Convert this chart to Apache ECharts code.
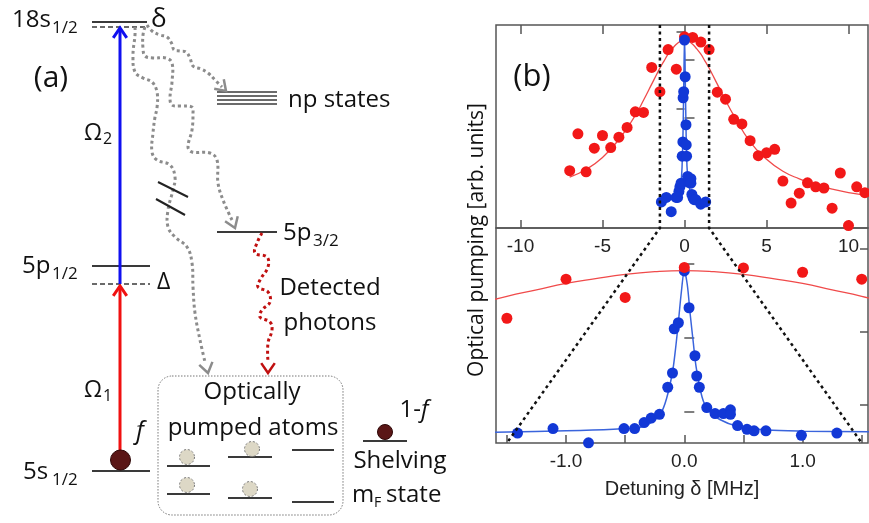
<!DOCTYPE html>
<html>
<head>
<meta charset="utf-8">
<script src="https://cdn.jsdelivr.net/npm/echarts@6/dist/echarts.min.js"></script>
<style>
html,body{margin:0;padding:0;background:#fff;}
#main{width:869px;height:523px;}
</style>
</head>
<body>
<div id="main"></div>
<script>
// red data: broad resonance (detuning in MHz, arb. units)
var redX = [-7,-6.5,-6,-5.5,-5,-4.5,-4,-3.5,-3,-2.5,-2,-1.5,-1,-0.5,0,0.5,1,1.5,2,2.5,3,3.5,4,4.5,5,5.5,6,6.5,7,7.5,8,8.5,9,9.5,10,10.5,11];
var redY = [1.08,1.72,1.06,1.47,1.69,1.48,1.66,1.83,2.10,2.09,2.87,2.45,3.18,2.84,3.40,3.39,3.31,3.18,2.44,2.32,1.97,1.89,1.60,1.34,1.39,1.45,0.90,0.52,0.69,0.87,0.80,0.78,0.43,1.04,0.13,0.80,0.70];
var redFitX = [-7,-6,-5,-4,-3,-2.5,-2,-1.75,-1.5,-1.25,-1,-0.75,-0.5,-0.25,0,0.25,0.5,0.75,1,1.25,1.5,1.75,2,2.5,3,4,5,6,7,8,9,10,11,11.5];
var redFitY = [0.97,1.10,1.31,1.62,2.04,2.30,2.58,2.72,2.86,2.98,3.10,3.19,3.27,3.32,3.34,3.32,3.27,3.19,3.10,2.98,2.86,2.72,2.58,2.30,2.04,1.58,1.28,1.07,0.94,0.84,0.76,0.70,0.66,0.64];

// blue data: narrow resonance
var blueX = [-1.41,-1.11,-0.81,-0.51,-0.42,-0.34,-0.28,-0.21,-0.14,-0.10,-0.085,-0.05,0.0,0.04,0.09,0.105,0.127,0.19,0.26,0.33,0.39,0.39,0.45,0.53,0.59,0.69,0.99,1.29];
var blueY = [0.64,0.70,0.51,0.70,0.70,0.78,0.84,0.89,1.25,1.44,2.03,2.11,2.80,2.31,1.67,1.40,1.25,0.98,0.90,0.90,0.95,0.89,0.74,0.69,0.67,0.67,0.61,0.64];
var blueFitX = [-1.6,-1.0,-0.6,-0.4,-0.3,-0.2,-0.15,-0.1,-0.075,-0.05,-0.025,0,0.025,0.05,0.075,0.1,0.15,0.2,0.3,0.45,0.7,1.0,1.6];
var blueFitY = [0.65,0.67,0.69,0.71,0.76,0.90,1.10,1.45,1.75,2.12,2.52,2.80,2.62,2.22,1.86,1.52,1.12,0.95,0.82,0.73,0.68,0.665,0.655];

// axis ticks
var wideTicks = [-10,-5,0,5,10];
var zoomTicks = [-1.5,-1,-0.5,0,0.5,1,1.5];
var zoomLabels = [-1,0,1];
var zoomEdge = 1.5;

function pairs(xs, ys, keep) {
	var out = [];
	for (var i = 0; i < xs.length; i++) {
		if (!keep || keep(xs[i])) out.push([xs[i], ys[i]]);
	}
	return out;
}

var RED = '#f21818', BLUE = '#1238d6';
var FRAME = '#555';
var CAL = '"Open Sans", Lato, sans-serif';
var ARIAL = '"Liberation Sans", Arial, sans-serif';
var LVL = '#3a3a3a';

function tickAxis(extra) {
	var a = {
		axisLine: {show: false},
		splitLine: {show: false},
		axisTick: {show: true, inside: true, length: 9, lineStyle: {color: FRAME, width: 1.5}},
		axisLabel: {show: false}
	};
	for (var k in extra) a[k] = extra[k];
	return a;
}

var myChart = echarts.init(document.getElementById('main'));

var option = {
	animation: false,
	backgroundColor: '#fff',
	grid: [
		{left: 496, top: 25, width: 372, height: 203, show: true, borderColor: FRAME, borderWidth: 1.5},
		{left: 496, top: 228, width: 372, height: 215, show: true, borderColor: FRAME, borderWidth: 1.5}
	],
	xAxis: [
		tickAxis({type: 'value', gridIndex: 0, position: 'bottom', min: -11.494, max: 11.189,
			axisTick: {show: true, inside: true, length: 8, customValues: wideTicks, lineStyle: {color: FRAME, width: 1.5}},
			axisLabel: {show: true, customValues: wideTicks, margin: 9, color: '#222', fontSize: 19, fontFamily: ARIAL}}),
		tickAxis({type: 'value', gridIndex: 0, position: 'top', min: -11.494, max: 11.189,
			axisTick: {show: true, inside: true, length: 9, customValues: wideTicks, lineStyle: {color: FRAME, width: 1.5}}}),
		tickAxis({type: 'value', gridIndex: 1, position: 'bottom', min: -1.592, max: 1.553,
			axisTick: {show: true, inside: true, length: 8, customValues: zoomTicks, lineStyle: {color: FRAME, width: 1.5}},
			axisLabel: {show: true, customValues: zoomLabels, margin: 9, color: '#222', fontSize: 19, fontFamily: ARIAL,
				formatter: function (v) { return v.toFixed(1); }},
			name: 'Detuning \u03b4 [MHz]', nameLocation: 'middle', nameGap: 36,
			nameTextStyle: {color: '#222', fontSize: 20, fontFamily: ARIAL}})
	],
	yAxis: [
		tickAxis({type: 'value', gridIndex: 0, position: 'left', min: 0.087, max: 3.605,
			axisTick: {show: true, inside: true, length: 10, customValues: [1, 2, 3], lineStyle: {color: FRAME, width: 1.5}}}),
		tickAxis({type: 'value', gridIndex: 0, position: 'right', min: 0.293, max: 3.0,
			axisTick: {show: true, inside: true, length: 8, customValues: [0.911, 1.889, 2.911], lineStyle: {color: FRAME, width: 1.5}}}),
		tickAxis({type: 'value', gridIndex: 1, position: 'left', min: 0.118, max: 4.137,
			axisTick: {show: true, inside: true, length: 10, customValues: [0.703, 2.086, 3.464], lineStyle: {color: FRAME, width: 1.5}}}),
		tickAxis({type: 'value', gridIndex: 1, position: 'right', min: 0.507, max: 3.373,
			axisTick: {show: true, inside: true, length: 8, customValues: [1.013, 1.991, 3.103], lineStyle: {color: FRAME, width: 1.5}}})
	],
	series: [
		{type: 'line', xAxisIndex: 0, yAxisIndex: 0, data: pairs(redFitX, redFitY), smooth: true, showSymbol: false,
			lineStyle: {color: '#f04a4a', width: 1.3}, z: 2},
		{type: 'scatter', xAxisIndex: 0, yAxisIndex: 0, data: pairs(redX, redY), symbolSize: 11,
			itemStyle: {color: RED, opacity: 1}, z: 3},
		{type: 'line', xAxisIndex: 0, yAxisIndex: 1, data: pairs(blueFitX, blueFitY), showSymbol: false,
			lineStyle: {color: '#3a64dc', width: 1.5}, z: 4},
		{type: 'scatter', xAxisIndex: 0, yAxisIndex: 1, data: pairs(blueX, blueY), symbolSize: 11,
			itemStyle: {color: BLUE, opacity: 1}, z: 5},
		{type: 'line', xAxisIndex: 2, yAxisIndex: 3, data: pairs(blueFitX, blueFitY), smooth: 0.3, showSymbol: false,
			lineStyle: {color: '#3a64dc', width: 1.5}, z: 2},
		{type: 'scatter', xAxisIndex: 2, yAxisIndex: 3, data: pairs(blueX, blueY), symbolSize: 11,
			itemStyle: {color: BLUE, opacity: 1}, z: 3},
		{type: 'line', xAxisIndex: 2, yAxisIndex: 2, data: pairs(redFitX, redFitY), smooth: true, showSymbol: false,
			lineStyle: {color: '#f04a4a', width: 1.3}, z: 4},
		{type: 'scatter', xAxisIndex: 2, yAxisIndex: 2, data: pairs(redX, redY, function (x) { return Math.abs(x) <= 1.55; }),
			symbolSize: 11, itemStyle: {color: RED, opacity: 1}, z: 5}
	]
};
myChart.setOption(option);

// ---- panel (a) schematic + labels ----
function ln(x1, y1, x2, y2, color, w, dash) {
	return {type: 'line', shape: {x1: x1, y1: y1, x2: x2, y2: y2},
		style: {stroke: color, lineWidth: w, lineDash: dash || null}, silent: true};
}
function path(pts, color, w, dash, smooth) {
	return {type: 'polyline', shape: {points: pts, smooth: smooth || 0},
		style: {stroke: color, fill: null, lineWidth: w, lineDash: dash || null, lineCap: 'butt'}, silent: true};
}
function head(tip, ang, color, w, len) {
	var a1 = ang + Math.PI - 0.6, a2 = ang + Math.PI + 0.6;
	return path([[tip[0] + len * Math.cos(a1), tip[1] + len * Math.sin(a1)], tip,
		[tip[0] + len * Math.cos(a2), tip[1] + len * Math.sin(a2)]], color, w);
}
function txt(s, x, y, size, opts) {
	opts = opts || {};
	return {type: 'text', x: x, y: y, rotation: opts.rot || 0, silent: true,
		style: {text: s, fontSize: size, fontFamily: opts.font || CAL, fontStyle: opts.italic ? 'italic' : 'normal',
			fill: opts.color || '#111', align: opts.align || 'left', verticalAlign: 'middle', rich: opts.rich}};
}
function ball(cx, cy, r) {
	return {type: 'circle', shape: {cx: cx, cy: cy, r: r}, style: {fill: '#5a1616', stroke: '#2e0808', lineWidth: 1}, silent: true};
}
function atom(cx, cy) {
	return {type: 'circle', shape: {cx: cx, cy: cy, r: 7.5}, style: {fill: '#ddd8c6', stroke: '#777', lineWidth: 1, lineDash: [2, 2]}, silent: true};
}

var GREY = '#8c8c8c', DOT = [3, 3];
var els = [
	// levels
	ln(92, 22, 147, 22, LVL, 2), ln(92, 27, 147, 27, LVL, 1.5, [5, 3]),
	ln(92, 266, 150, 266, LVL, 2), ln(92, 284, 150, 284, LVL, 1.5, [5, 3]),
	ln(92, 471, 150, 471, LVL, 2),
	ln(217, 92, 277, 92, LVL, 1.5), ln(217, 96, 277, 96, LVL, 1.5), ln(217, 100, 277, 100, LVL, 1.5), ln(217, 104, 277, 104, LVL, 1.5),
	ln(217, 232, 277, 232, LVL, 2),
	ln(363, 441, 407, 441, LVL, 2),
	// lasers
	ln(120, 470, 120, 288, '#f01010', 3), head([120, 286], -Math.PI / 2, '#f01010', 3, 12),
	ln(120, 284, 120, 30, '#1010f0', 3), head([120, 28], -Math.PI / 2, '#1010f0', 3, 12),
	// decay paths
	path([[147,25],[152,31],[160,35],[167,37],[172,44],[174,50],[180,51],[186,52],[190,58],[193,66],[201,69],[208,73],[215,80],[222,87]], GREY, 3, DOT, 0.4),
	head([226, 91], Math.PI / 4, GREY, 2.5, 12),
	path([[145,27],[143,35],[143,48],[145,56],[153,58],[166,58],[172,63],[172,82],[170,98],[172,105],[180,106],[192,107],[193,113],[192,130],[188,147],[192,152],[210,153],[217,160],[218,183],[223,200],[232,220]], GREY, 3, DOT, 0.4),
	head([235, 228], 1.2, GREY, 2.5, 12),
	path([[135,27],[135,35],[133,55],[135,72],[143,78],[152,82],[157,92],[157,108],[155,117],[153,133],[152,152],[157,160],[170,165],[175,177],[173,190],[168,210],[168,227],[175,237],[187,247],[192,263],[193,287],[195,313],[200,340],[205,362]], GREY, 3, DOT, 0.4),
	head([208, 373], 1.35, GREY, 2.5, 12),
	path([[262,233],[257,243],[255,253],[267,257],[268,267],[260,280],[258,287],[268,292],[270,302],[262,310],[260,317],[270,322],[272,330],[268,343],[268,362]], '#c01010', 3, DOT, 0.4),
	head([268, 373], Math.PI / 2, '#c01010', 2.5, 12),
	ln(158, 182, 188, 197, '#222', 2), ln(156, 199, 185, 215, '#222', 2),
	// pumped atoms box
	{type: 'rect', shape: {x: 158, y: 376, width: 185, height: 139, r: 14}, style: {fill: null, stroke: '#777', lineWidth: 1, lineDash: [1.5, 1.5]}, silent: true},
	ln(167, 466, 210, 466, LVL, 2), ln(228, 457, 272, 457, LVL, 2), ln(292, 450, 334, 450, LVL, 2),
	ln(167, 494, 210, 494, LVL, 2), ln(228, 498, 272, 498, LVL, 2), ln(292, 502, 334, 502, LVL, 2),
	atom(187, 457), atom(252, 449), atom(187, 485), atom(250, 489),
	ball(120.5, 460, 10), ball(385, 432, 7.5),
	// labels
	txt('18s', 12, 20, 24), txt('1/2', 52, 28, 17),
	txt('\u03b4', 151, 20, 26),
	txt('(a)', 51, 78, 30, {align: 'center'}),
	txt('\u03a9', 84, 133, 23), txt('2', 103, 139, 16),
	txt('5p', 22, 266, 24), txt('1/2', 52, 274, 17),
	txt('\u0394', 157, 282, 23),
	txt('\u03a9', 84, 390, 23), txt('1', 103, 396, 16),
	txt('f', 140, 432, 25, {italic: true, align: 'center'}),
	txt('5s', 23, 472, 24), txt('1/2', 52, 480, 17),
	txt('np states', 288, 100, 24),
	txt('5p', 283, 233, 24), txt('3/2', 313, 241, 17),
	txt('Detected', 330, 288, 24, {align: 'center'}),
	txt('photons', 330, 323, 24, {align: 'center'}),
	txt('Optically', 252, 392, 24, {align: 'center'}),
	txt('pumped atoms', 253, 428, 24, {align: 'center'}),
	txt('1-{i|f}', 414, 410, 24, {align: 'center', rich: {i: {fontStyle: 'italic', fontSize: 24, fontFamily: CAL}}}),
	txt('Shelving', 400, 461, 24, {align: 'center'}),
	txt('m', 352, 495, 24), txt('F', 374, 503, 14), txt('state', 386, 495, 24),
	// panel (b) labels
	txt('(b)', 532, 77, 31, {align: 'center'}),
	txt('Optical pumping [arb. units]', 477, 240, 21, {align: 'center', rot: Math.PI / 2})
];

// dashed zoom connectors through the axes' own scales
var yTopMax = option.yAxis[0].max, yTopMin = option.yAxis[0].min, yBotMin = option.yAxis[2].min;
[-zoomEdge, zoomEdge].forEach(function (xv) {
	var p1 = myChart.convertToPixel({xAxisIndex: 0, yAxisIndex: 0}, [xv, yTopMax]);
	var p2 = myChart.convertToPixel({xAxisIndex: 0, yAxisIndex: 0}, [xv, yTopMin]);
	var p3 = myChart.convertToPixel({xAxisIndex: 2, yAxisIndex: 2}, [xv, yBotMin]);
	var c = path([p1, p2, p3], '#111', 2.5, [3, 3.5]);
	c.z = 20;
	els.push(c);
});

myChart.setOption({graphic: els});
</script>
</body>
</html>
